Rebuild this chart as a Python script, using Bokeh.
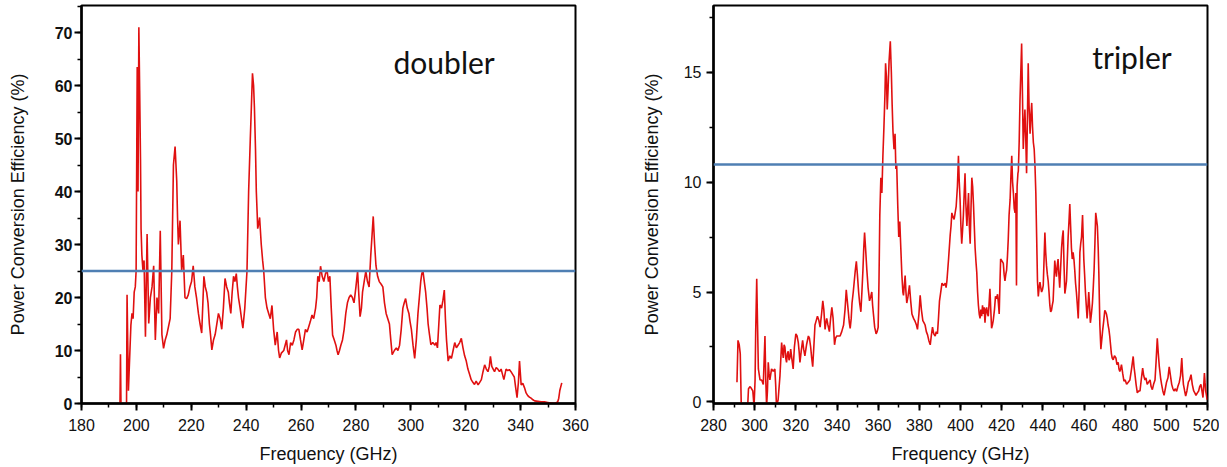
from bokeh.plotting import figure
from bokeh.layouts import row
from bokeh.models import Range1d, SingleIntervalTicker, Span, Label
from bokeh.embed import file_html
from bokeh.resources import INLINE

# ---------------- data: doubler ----------------
D_FREQ = [194.0, 194.2, 194.4, 196.4, 196.6, 197.1, 197.5, 198.0, 198.4, 198.8, 199.2, 199.6, 199.9,
          200.3, 200.6, 200.9, 201.2, 201.5, 201.7, 202.0, 202.4, 202.8, 203.3, 203.9, 204.5, 205.1,
          205.7, 206.3, 206.9, 207.5, 208.1, 208.7, 209.3, 209.9, 210.5, 211.1, 211.7, 212.3, 212.9,
          213.5, 214.1, 214.7, 215.0, 215.3, 215.9, 216.5, 217.1, 217.7, 218.3, 218.9, 219.5, 220.1,
          220.7, 221.3, 221.9, 222.6, 223.2, 223.8, 224.6, 225.1, 225.6, 226.1, 226.6, 227.0, 227.5,
          228.1, 228.7, 229.3, 229.9, 230.5, 231.1, 231.7, 232.3, 232.9, 233.5, 233.9, 234.4, 234.9,
          235.4, 235.9, 236.4, 236.8, 237.2, 237.8, 238.3, 238.8, 239.5, 240.3, 240.9, 241.5, 241.9,
          242.3, 242.7, 243.0, 243.4, 243.7, 244.0, 244.2, 244.6, 244.9, 245.5, 246.0, 246.4, 247.0,
          247.6, 248.2, 248.8, 249.4, 250.0, 250.6, 251.3, 251.8, 252.2, 252.8, 253.7, 254.2, 254.7,
          255.1, 255.6, 256.2, 256.8, 257.4, 258.0, 258.6, 259.2, 259.8, 260.4, 261.0, 261.6, 262.2,
          262.8, 263.4, 264.0, 264.6, 265.3, 265.7, 266.1, 266.6, 267.1, 267.7, 268.3, 268.9, 269.5,
          270.0, 270.5, 271.0, 271.5, 272.1, 272.7, 273.1, 273.5, 274.0, 274.5, 275.1, 275.7, 276.3,
          276.9, 277.5, 278.1, 278.7, 279.3, 280.0, 280.6, 281.0, 281.5, 282.0, 282.4, 283.0, 283.6,
          284.2, 284.8, 285.4, 285.9, 286.3, 286.8, 287.3, 287.9, 288.5, 289.2, 289.8, 290.4, 291.0,
          291.6, 292.2, 292.7, 293.2, 294.0, 294.7, 295.3, 295.9, 296.5, 297.1, 297.6, 298.1, 298.7,
          299.3, 299.7, 300.2, 300.8, 301.4, 302.0, 302.6, 303.1, 303.6, 304.0, 304.4, 304.9, 305.4,
          305.9, 306.3, 306.8, 307.3, 308.0, 308.8, 309.2, 309.7, 310.2, 310.6, 311.2, 311.7, 312.2,
          312.6, 313.0, 313.6, 314.2, 314.8, 315.4, 316.0, 316.6, 317.2, 317.8, 318.4, 319.0, 319.6,
          320.2, 320.8, 321.4, 322.0, 322.6, 323.2, 323.8, 324.5, 325.1, 325.7, 326.3, 326.9, 327.5,
          328.1, 328.6, 329.0, 329.5, 330.0, 330.5, 331.1, 331.7, 332.3, 332.9, 333.4, 333.9, 334.3,
          334.7, 335.3, 335.9, 336.5, 337.1, 337.7, 338.2, 338.7, 339.2, 339.6, 340.2, 340.8, 341.4,
          342.0, 342.6, 343.2, 343.8, 344.5, 345.1, 346.3, 347.5, 348.7, 349.9, 351.1, 352.3, 353.5,
          353.9, 354.3, 355.0]
D_EFF = [-1, 9.3, -1, -1, 20.5, 2.4, 8, 14.8, 17, 16, 21, 22, 25,
         63.5, 40, 71.0, 59, 46, 33, 28, 25, 27, 12.6, 32, 15.1, 20,
         22, 26, 12, 20, 17, 32.6, 13, 10.4, 12, 13, 14.5, 16, 25,
         45, 48.5, 42, 35, 30, 34.5, 25, 28, 20, 19.8, 20.5, 22, 23,
         26, 22, 20, 17, 15, 13.3, 24, 22, 21, 19, 15, 13, 10.1,
         12, 13, 15, 17, 16, 14, 18, 23.6, 22, 21, 19, 17, 21,
         24, 23, 24.5, 22, 20, 18, 16, 14.2, 18, 25, 40, 49.8, 56,
         62.3, 60, 56, 48, 40, 36, 33, 34, 35.1, 30, 27, 25, 20,
         18, 17, 16, 18.5, 14, 11, 13.5, 10, 8.6, 9.5, 10, 11, 12,
         10, 9.2, 11.5, 11, 12, 13.5, 14, 14, 12, 10.1, 12, 14, 13.5,
         14.5, 15.5, 16.7, 16, 18, 20, 24, 23, 25.9, 24, 23, 24.5, 25,
         23, 24, 18, 12.9, 12, 11, 10, 9.2, 10, 11, 12, 14, 17,
         19, 20, 20.5, 20, 19, 22, 25, 21, 16.4, 18, 21, 23, 25,
         23, 22, 28, 32, 35.3, 30, 26, 24, 23, 22.5, 22, 19, 17,
         16, 15, 12, 9.2, 10, 10.5, 10, 11, 14, 18, 19, 19.8, 18,
         17, 15.5, 14, 11, 8.5, 12, 17, 20, 23, 24.5, 25.1, 23, 21,
         18, 15, 13, 11.1, 11.5, 11, 11.5, 10.5, 15, 18.6, 18, 19.5, 21.4,
         16, 12, 8, 9, 8.5, 10, 11.5, 10.5, 11, 11.5, 12.3, 10.5, 9,
         8, 6.5, 5.5, 4.5, 4, 3.6, 4.2, 3.5, 4, 4.5, 6, 7.3, 6.5,
         6, 7, 8.9, 7, 6.5, 6, 6.8, 6.5, 6, 6.5, 5.5, 4.5, 5.5,
         6.5, 6.2, 6.4, 6, 5.5, 5, 3, 1.1, 4, 8.0, 3.5, 3.8, 3,
         2, 1.5, 1.2, 1, 0.7, 0.5, 0.4, 0.3, 0.3, 0.2, 0.1, 0, 0.3,
         1, 2.5, 3.9]
D_LEVEL = 25.0

# ---------------- data: tripler ----------------
T_FREQ = [291.4, 291.9, 292.5, 293.0, 293.5, 296.6, 297.0, 297.8, 298.5, 299.1, 299.7, 300.2, 300.5,
          301.0, 301.4, 301.8, 302.6, 303.4, 304.2, 305.0, 305.4, 305.8, 306.2, 306.6, 307.0, 307.4,
          308.2, 309.0, 309.8, 310.2, 310.6, 311.4, 312.3, 313.1, 313.5, 313.9, 314.3, 314.7, 315.1,
          315.5, 315.9, 316.3, 316.7, 317.1, 317.5, 317.9, 318.3, 318.7, 319.3, 320.0, 320.6, 321.2,
          321.6, 322.0, 322.6, 323.3, 323.8, 324.4, 325.2, 326.1, 326.6, 327.2, 327.7, 328.2, 328.8,
          329.3, 329.9, 330.5, 331.2, 331.8, 332.5, 333.1, 333.6, 334.2, 334.6, 335.0, 335.6, 336.3,
          336.9, 337.5, 338.1, 338.8, 339.3, 339.9, 340.7, 341.5, 342.3, 343.2, 343.9, 344.5, 345.0,
          345.6, 346.0, 346.4, 346.9, 347.3, 347.9, 348.4, 348.9, 349.4, 349.9, 350.5, 351.0, 351.6,
          352.1, 352.6, 353.0, 353.4, 354.0, 354.5, 355.1, 355.8, 356.4, 356.9, 357.3, 357.7, 358.3,
          359.0, 359.5, 360.0, 360.4, 360.8, 361.3, 361.8, 362.3, 362.8, 363.3, 363.6, 364.0, 364.4,
          364.8, 365.3, 365.9, 366.4, 366.8, 367.2, 367.7, 368.2, 368.6, 369.0, 369.5, 370.0, 370.5,
          371.0, 371.5, 372.0, 372.3, 372.7, 373.1, 373.5, 373.9, 374.5, 375.2, 375.8, 376.4, 377.2,
          378.0, 378.6, 379.1, 379.8, 380.4, 381.0, 381.7, 382.3, 382.8, 383.4, 384.0, 384.6, 385.3,
          385.8, 386.4, 387.0, 387.7, 388.2, 388.8, 389.3, 389.8, 390.4, 391.0, 391.8, 392.6, 393.0,
          393.4, 394.2, 395.0, 395.4, 395.8, 396.4, 396.9, 397.4, 397.9, 398.5, 399.0, 399.4, 399.8,
          400.2, 400.6, 401.0, 401.4, 401.8, 402.2, 402.6, 403.1, 403.5, 403.9, 404.3, 404.7, 405.1,
          405.5, 405.9, 406.3, 406.7, 407.1, 407.5, 407.9, 408.3, 408.7, 409.1, 409.5, 409.9, 410.3,
          410.7, 411.1, 411.5, 411.9, 412.3, 412.7, 413.1, 413.5, 413.9, 414.3, 414.7, 415.1, 415.5,
          415.9, 416.5, 417.0, 417.5, 418.0, 418.4, 418.8, 419.2, 419.5, 420.2, 420.8, 421.2, 421.6,
          422.0, 422.4, 422.8, 423.2, 423.6, 424.1, 424.5, 424.9, 425.3, 425.7, 426.1, 426.5, 426.9,
          427.2, 427.5, 427.9, 428.1, 428.5, 428.9, 429.3, 429.7, 430.1, 430.5, 430.9, 431.3, 431.7,
          432.1, 432.5, 432.9, 433.3, 433.8, 434.2, 434.6, 435.0, 435.4, 435.8, 436.2, 436.6, 437.0,
          437.4, 437.8, 438.2, 438.6, 439.0, 439.4, 439.8, 440.2, 440.6, 441.0, 441.4, 441.8, 442.2,
          442.6, 443.0, 443.4, 443.8, 444.2, 444.6, 445.0, 445.4, 445.8, 446.2, 446.6, 447.0, 447.4,
          447.8, 448.2, 448.6, 449.1, 449.5, 449.9, 450.3, 450.7, 451.1, 451.5, 451.9, 452.3, 452.7,
          453.1, 453.5, 453.9, 454.3, 454.7, 455.1, 455.5, 455.9, 456.3, 456.7, 457.2, 457.6, 458.0,
          458.4, 458.8, 459.3, 459.6, 459.9, 460.3, 460.7, 461.1, 461.5, 461.9, 462.3, 462.7, 463.1,
          463.6, 464.1, 464.5, 464.9, 465.3, 465.7, 466.1, 466.5, 466.9, 467.2, 467.7, 468.2, 468.6,
          469.0, 469.6, 470.1, 470.5, 470.9, 471.3, 471.7, 472.1, 472.5, 472.9, 473.3, 473.7, 474.2,
          474.8, 475.5, 476.0, 476.6, 477.0, 477.4, 477.8, 478.2, 478.8, 479.4, 480.0, 480.7, 481.5,
          482.3, 483.1, 483.9, 484.3, 484.7, 485.3, 485.9, 486.5, 487.2, 487.8, 488.5, 489.0, 489.6,
          490.1, 490.7, 491.4, 492.1, 492.6, 493.2, 493.8, 494.5, 495.0, 495.6, 496.1, 496.6, 497.2,
          497.7, 498.3, 498.9, 499.5, 500.1, 500.8, 501.4, 502.0, 502.6, 503.2, 503.7, 504.4, 505.0,
          505.6, 506.3, 506.9, 507.5, 507.9, 508.3, 508.9, 509.4, 510.0, 510.7, 511.3, 512.0, 512.6,
          513.3, 513.9, 514.4, 515.0, 515.7, 516.2, 516.8, 517.3, 517.8, 518.2, 518.5, 518.8, 519.1,
          519.5, 519.8]
T_EFF = [0.9, 2.8, 2.6, 2.2, -0.2, -0.2, 0.6, 0.7, 0.6, 0.5, -0.2, 1.0, 3.2,
         5.6, 3.5, 1.5, 1.0, 1.0, 0.8, 3.0, 1.0, -0.2, 0.5, 1.8, 1.3, 1.0,
         1.5, 1.4, 1.5, 0.8, -0.2, 0.1, 1.2, 2.7, 2.3, 2.0, 2.6, 2.5, 2.0,
         1.8, 2.2, 2.3, 1.9, 2.0, 2.4, 2.1, 1.8, 1.5, 2.5, 3.1, 3.0, 2.7,
         2.3, 1.8, 2.3, 2.8, 2.4, 2.1, 2.6, 3.0, 2.9, 2.5, 2.0, 1.6, 2.6,
         3.5, 3.7, 3.9, 3.7, 3.4, 4.0, 4.6, 4.2, 3.3, 3.6, 3.8, 3.5, 3.2,
         3.8, 4.3, 3.8, 2.6, 2.9, 3.0, 3.0, 3.0, 3.2, 3.5, 4.2, 5.1, 4.6,
         4.0, 3.6, 3.35, 3.8, 4.5, 5.0, 5.5, 6.0, 6.4, 5.8, 5.0, 4.5, 4.1,
         5.0, 6.0, 7.0, 7.7, 6.8, 6.0, 5.2, 4.6, 4.8, 5.0, 4.4, 4.0, 3.4,
         3.1, 3.2, 3.4, 5.5, 8.5, 10.2, 9.5, 11.2, 12.5, 14.0, 15.4, 14.8, 13.3,
         14.2, 15.5, 16.4, 15.0, 13.5, 12.3, 11.5, 12.2, 10.6, 10.8, 9.0, 7.5, 8.2,
         7.0, 5.8, 5.0, 4.85, 5.3, 5.75, 5.0, 4.5, 4.8, 5.3, 4.6, 4.0, 3.8,
         3.65, 3.5, 3.3, 4.0, 4.85, 4.2, 3.7, 3.6, 3.5, 3.2, 3.05, 2.8, 2.6,
         3.0, 3.4, 3.1, 3.0, 3.2, 3.1, 3.8, 4.6, 5.0, 5.4, 5.3, 5.4, 5.2,
         5.5, 6.5, 7.6, 8.0, 8.6, 8.4, 8.3, 8.6, 8.9, 9.8, 11.2, 10.0, 9.2,
         8.0, 7.2, 7.8, 8.5, 9.5, 10.4, 9.0, 8.0, 8.8, 9.5, 8.0, 7.2, 8.8,
         10.2, 9.8, 9.0, 8.0, 7.0, 6.4, 5.9, 5.0, 4.4, 4.0, 3.8, 4.2, 3.9,
         4.4, 4.0, 4.3, 3.6, 4.2, 4.3, 4.0, 3.9, 4.5, 5.15, 4.2, 3.35, 3.5,
         3.7, 4.2, 4.8, 4.7, 4.9, 4.5, 4.0, 5.5, 6.5, 6.4, 6.3, 5.8, 5.5,
         5.8, 6.0, 6.6, 7.4, 8.5, 9.2, 10.3, 11.2, 10.0, 9.5, 8.8, 8.6, 9.5,
         5.3, 9.8, 10.4, 10.5, 11.8, 13.7, 15.0, 16.3, 14.0, 11.5, 12.5, 13.3, 12.0,
         10.4, 12.8, 15.4, 13.5, 12.2, 13.0, 13.6, 12.5, 11.8, 11.5, 10.7, 9.5, 7.5,
         5.5, 4.8, 5.2, 5.45, 5.2, 5.0, 5.1, 5.3, 6.5, 7.7, 6.8, 6.2, 5.8,
         5.5, 5.0, 4.4, 4.1, 4.17, 4.4, 4.6, 5.5, 6.43, 6.0, 5.7, 6.2, 6.5,
         5.8, 5.2, 6.0, 7.0, 7.5, 7.8, 6.2, 4.93, 5.2, 5.5, 6.5, 7.5, 8.2,
         9.0, 8.0, 7.0, 6.5, 6.8, 6.5, 6.0, 5.4, 5.0, 4.5, 3.8, 5.0, 6.8,
         7.2, 7.5, 8.5, 7.5, 6.5, 5.8, 5.0, 4.4, 3.8, 4.3, 5.0, 4.4, 3.6,
         4.0, 4.5, 5.2, 6.0, 7.2, 8.6, 8.3, 8.0, 7.0, 5.9, 3.5, 2.4, 2.8,
         3.2, 3.7, 4.17, 4.1, 4.0, 3.8, 3.5, 3.3, 3.0, 2.6, 2.2, 2.0, 1.92,
         2.1, 2.0, 1.7, 1.8, 1.5, 1.39, 1.5, 1.7, 1.3, 0.95, 1.0, 0.8, 0.9,
         1.0, 1.5, 2.07, 1.6, 1.3, 0.8, 0.41, 0.5, 0.5, 1.0, 1.54, 1.2, 1.0,
         1.1, 0.8, 0.9, 1.0, 0.7, 0.56, 0.8, 1.0, 1.8, 2.9, 2.2, 1.6, 1.1,
         0.8, 0.5, 0.3, 0.6, 0.9, 1.1, 1.6, 1.2, 0.8, 0.6, 0.5, 0.6, 0.48,
         0.7, 0.9, 1.2, 2.0, 1.3, 0.8, 0.5, 0.27, 0.5, 0.9, 1.0, 1.24, 0.8,
         0.5, 0.4, 0.3, 0.4, 0.5, 0.7, 0.8, 0.5, 0.2, 0.8, 1.31, 0.9, 0.5,
         0.3, 0.1]
T_LEVEL = 10.8

RED = "#e01010"
BLUE = "#4f7fb3"
AX_FONT = "Liberation Sans"


def style(p, y_bold, y_standoff, label_standoff):
    p.toolbar_location = None
    p.grid.visible = False
    p.background_fill_color = "white"
    p.border_fill_color = "white"
    p.outline_line_color = "black"
    p.outline_line_width = 2
    p.outline_line_alpha = 1.0
    for ax in (p.xaxis[0], p.yaxis[0]):
        ax.axis_line_width = 2.5
        ax.axis_line_color = "black"
        ax.major_tick_in = 0
        ax.major_tick_out = 7
        ax.minor_tick_in = 0
        ax.minor_tick_out = 4
        ax.major_tick_line_width = 2
        ax.minor_tick_line_width = 1.5
        ax.major_tick_line_color = "black"
        ax.minor_tick_line_color = "black"
        ax.major_label_text_font = AX_FONT
        ax.major_label_text_font_size = "16px"
        ax.major_label_text_color = "#111111"
        ax.axis_label_text_font = AX_FONT
        ax.axis_label_text_font_style = "normal"
        ax.axis_label_text_color = "#111111"
    p.xaxis.axis_label_text_font_size = "18px"
    p.yaxis.axis_label_text_font_size = "18px"
    p.xaxis.major_label_standoff = 8
    p.xaxis.axis_label_standoff = 10
    p.yaxis.major_label_standoff = y_standoff
    p.yaxis.axis_label_standoff = label_standoff
    if y_bold:
        p.yaxis.major_label_text_font_style = "bold"


# ---------------- doubler panel ----------------
p1 = figure(width=600, height=466, output_backend="svg", toolbar_location=None,
            x_range=Range1d(180, 360), y_range=Range1d(0, 75.1),
            min_border_left=81, min_border_right=25, min_border_top=5, min_border_bottom=60,
            x_axis_label="Frequency (GHz)", y_axis_label="Power Conversion Efficiency (%)")
p1.xaxis.ticker = SingleIntervalTicker(interval=20, num_minor_ticks=2)
p1.yaxis.ticker = SingleIntervalTicker(interval=10, num_minor_ticks=2)
style(p1, True, 2, 24)
p1.add_layout(Span(location=D_LEVEL, dimension="width", line_color=BLUE, line_width=2.5))
p1.line(D_FREQ, D_EFF, line_color=RED, line_width=1.6)
p1.add_layout(Label(x=293.7, y=64.4, text="doubler", text_font="Lato", text_font_size="30px",
                    text_color="#111111", text_baseline="alphabetic"))

# ---------------- tripler panel ----------------
p2 = figure(width=619, height=466, output_backend="svg", toolbar_location=None,
            x_range=Range1d(280, 520), y_range=Range1d(-0.07, 18.03),
            min_border_left=113, min_border_right=12, min_border_top=5, min_border_bottom=60,
            x_axis_label="Frequency (GHz)", y_axis_label="Power Conversion Efficiency (%)")
p2.xaxis.ticker = SingleIntervalTicker(interval=20, num_minor_ticks=2)
p2.yaxis.ticker = SingleIntervalTicker(interval=5, num_minor_ticks=2)
style(p2, False, 5, 19)
p2.add_layout(Span(location=T_LEVEL, dimension="width", line_color=BLUE, line_width=2.5))
p2.line(T_FREQ, T_EFF, line_color=RED, line_width=1.6)
p2.add_layout(Label(x=464, y=15.7, text="tripler", text_font="Lato", text_font_size="30px",
                    text_color="#111111", text_baseline="alphabetic"))

layout = row(p1, p2)
open("out.html", "w").write(file_html(layout, INLINE))
